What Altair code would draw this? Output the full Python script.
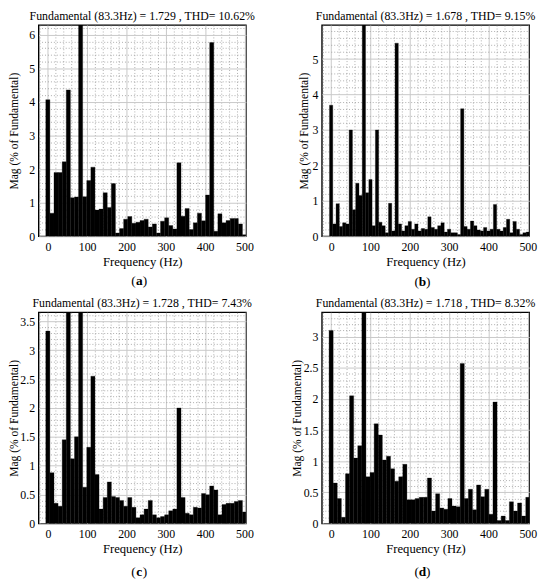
import altair as alt
import numpy as np
import pandas as pd

SERIF = "Liberation Serif"
F1 = 83.3333          # fundamental frequency (Hz)
FUND = 100.0          # the fundamental bin itself (100 %), clipped by the axis

# spectra in % of fundamental, one bar per frequency bin starting at 0 Hz
mag_a = [4.07, 0.69, 1.9, 1.9, 2.22, 4.36, 1.15, 1.17, FUND, 1.18,
         1.66, 2.06, 0.78, 0.81, 1.3, 0.86, 1.57, 0.1, 0.23, 0.51,
         0.59, 0.39, 0.42, 0.47, 0.51, 0.28, 0.37, 0.1, 0.45, 0.55,
         0.32, 0.22, 2.19, 0.6, 0.83, 0.2, 0.4, 0.69, 0.46, 1.23,
         5.77, 0.15, 0.67, 0.4, 0.47, 0.53, 0.53, 0.37, 0.05]
mag_b = [3.7, 0.35, 0.92, 0.28, 0.38, 0.35, 3.0, 0.75, 1.5, 1.15,
         FUND, 1.23, 1.6, 0.3, 3.0, 0.4, 0.3, 0.1, 0.93, 0.15,
         5.45, 0.35, 0.15, 0.3, 0.42, 0.2, 0.35, 0.15, 0.22, 0.2,
         0.55, 0.25, 0.2, 0.3, 0.38, 0.12, 0.2, 0.1, 0.1, 0.05,
         3.6, 0.28, 0.2, 0.43, 0.3, 0.18, 0.15, 0.25, 0.15, 0.2,
         0.9, 0.2, 0.15, 0.25, 0.48, 0.1, 0.42, 0.2, 0.05, 0.1, 0.12]
mag_c = [3.33, 0.88, 0.35, 0.3, 1.45, 3.9, 1.12, 1.5, FUND, 0.63,
         1.32, 2.55, 0.85, 0.25, 0.45, 0.72, 0.47, 0.45, 0.4, 0.3,
         0.45, 0.28, 0.1, 0.15, 0.25, 0.4, 0.15, 0.1, 0.12, 0.15,
         0.22, 0.25, 2.0, 0.45, 0.18, 0.15, 0.28, 0.27, 0.52, 0.5,
         0.65, 0.58, 0.15, 0.33, 0.35, 0.35, 0.38, 0.4, 0.2]
mag_d = [3.1, 0.65, 0.4, 0.1, 0.8, 2.05, 1.05, 1.25, FUND, 0.75,
         0.82, 1.6, 1.42, 1.02, 1.08, 0.88, 0.68, 0.75, 0.95, 0.38,
         0.38, 0.4, 0.42, 0.42, 0.73, 0.2, 0.48, 0.25, 0.23, 0.4,
         0.28, 0.27, 2.57, 0.4, 0.55, 0.22, 0.62, 0.43, 0.55, 0.15,
         1.95, 0.05, 0.12, 0.05, 0.35, 0.2, 0.33, 0.12, 0.42]

# frequency resolution of each analysis (Hz per bin)
res_a, res_b, res_c, res_d = F1 / 8, F1 / 10, F1 / 8, F1 / 8

titles = ["Fundamental (83.3Hz) = 1.729 , THD= 10.62%",
          "Fundamental (83.3Hz) = 1.678 , THD= 9.15%",
          "Fundamental (83.3Hz) = 1.728 , THD= 7.43%",
          "Fundamental (83.3Hz) = 1.718 , THD= 8.32%"]
letters = ["a", "b", "c", "d"]
y_max = [6.29, 5.96, 3.655, 3.39]
y_major = [1, 1, 0.5, 0.5]
y_minor = [0.2, 0.2, 0.1, 0.1]

W, H = 210, 214
X_DOMAIN = [-23.5, 503.5]


def x_axis():
    major = "datum.value % 100 === 0"
    return alt.Axis(
        values=list(range(-20, 504, 20)),
        title="Frequency (Hz)", titleFont=SERIF, titleFontSize=12.8,
        titleFontWeight="normal", titleColor="black",
        titleY=29.5, titleBaseline="alphabetic",
        labelExpr=f"({major}) && datum.value >= 0 ? format(datum.value, 'd') : ''",
        labelFont=SERIF, labelFontSize=12, labelColor="black",
        labelPadding=5, labelOverlap=False, labelFlush=False,
        ticks=False, domain=False, grid=True,
        gridColor={"condition": {"test": major, "value": "#c8c8c8"}, "value": "#8a8a8a"},
        gridDash={"condition": {"test": major, "value": []}, "value": [1, 2]},
        gridWidth={"condition": {"test": major, "value": 1}, "value": 0.7},
    )


def y_axis(ymax, major, minor, title_x):
    vals = [round(i * minor, 6) for i in range(int(ymax / minor + 1e-9) + 1)]
    test = f"abs(datum.value / {major} - round(datum.value / {major})) < 1e-6"
    return alt.Axis(
        values=vals,
        title="Mag (% of Fundamental)", titleFont=SERIF, titleFontSize=11.7,
        titleFontWeight="normal", titleColor="black",
        titleX=title_x, titleY=H / 2, titleBaseline="middle",
        labelExpr=f"({test}) ? format(datum.value, '~g') : ''",
        labelFont=SERIF, labelFontSize=12, labelColor="black",
        labelPadding=4, labelOverlap=False,
        ticks=False, domain=False, grid=True,
        gridColor={"condition": {"test": test, "value": "#c8c8c8"}, "value": "#8a8a8a"},
        gridDash={"condition": {"test": test, "value": []}, "value": [1, 2]},
        gridWidth={"condition": {"test": test, "value": 1}, "value": 0.7},
    )


def texts(title, letter, cap_dy):
    src = alt.Data(values=[{"c": 0}])
    cx = W / 2 - 3
    parts = [(title, "normal", "center", W / 2, -5.5, 12),
             ("(", "normal", "right", cx - 3.6, H + cap_dy, 13.5),
             (letter, "bold", "center", cx, H + cap_dy, 13.5),
             (")", "normal", "left", cx + 3.6, H + cap_dy, 13.5)]
    layers = []
    for txt, weight, align, x, y, size in parts:
        layers.append(
            alt.Chart(src).mark_text(text=txt, font=SERIF, fontSize=size,
                                     fontWeight=weight, align=align,
                                     baseline="alphabetic", color="black")
            .encode(x=alt.value(x), y=alt.value(y))
        )
    return layers


def panel(mags, res, ymax, major, minor, title, letter, title_x, cap_dy):
    df = pd.DataFrame({"mag": mags})
    df["f"] = np.arange(len(mags)) * res
    bars = (
        alt.Chart(df)
        .transform_calculate(f0=f"datum.f - {res / 2}", f1=f"datum.f + {res / 2}")
        .mark_rect(color="black", stroke="black", strokeWidth=0.3, clip=True)
        .encode(
            x=alt.X("f0:Q", scale=alt.Scale(domain=X_DOMAIN, nice=False, zero=False),
                    axis=x_axis()),
            x2="f1:Q",
            y=alt.Y("mag:Q", scale=alt.Scale(domain=[0, ymax], nice=False),
                    axis=y_axis(ymax, major, minor, title_x)),
            y2=alt.datum(0),
        )
    )
    return alt.layer(bars, *texts(title, letter, cap_dy)).properties(width=W, height=H)


pa = panel(mag_a, res_a, y_max[0], y_major[0], y_minor[0], titles[0], letters[0], -25, 49.5)
pb = panel(mag_b, res_b, y_max[1], y_major[1], y_minor[1], titles[1], letters[1], -19, 50)
pc = panel(mag_c, res_c, y_max[2], y_major[2], y_minor[2], titles[2], letters[2], -25, 53.5)
pd_ = panel(mag_d, res_d, y_max[3], y_major[3], y_minor[3], titles[3], letters[3], -25.5, 53)

chart = (
    alt.concat(pa, pb, pc, pd_, columns=2, spacing={"row": 77, "column": 77},
               bounds="flush")
    .properties(padding={"left": 0, "top": -3.5, "right": 4, "bottom": 4},
                background="white")
    .configure(font=SERIF)
    .configure_view(stroke="black", strokeWidth=1.4)
)

chart.save("out.html", embed_options={"renderer": "svg", "actions": False})
